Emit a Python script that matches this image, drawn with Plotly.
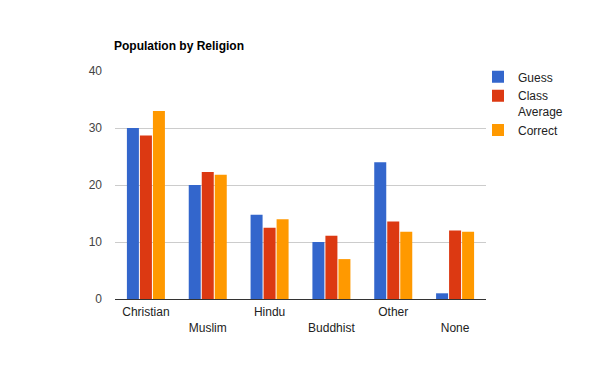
import plotly.graph_objects as go

categories = ["Christian", "Muslim", "Hindu", "Buddhist", "Other", "None"]
tick_labels = ["Christian", "<br>Muslim", "Hindu", "<br>Buddhist", "Other", "<br>None"]
guess = [30, 20, 14.8, 10, 24, 1]
class_avg = [28.7, 22.3, 12.5, 11.1, 13.6, 12]
correct = [33, 21.8, 14, 7, 11.8, 11.8]
series_names = ["Guess", "Class<br>Average", "Correct"]
colors = ["#3366cc", "#dc3912", "#ff9900"]

FONT = "Liberation Sans, Arial, sans-serif"

# page has an 8px body margin, so figure coordinates = page coordinates - 8
W, H = 592, 363
L, T = 107, 63
PW, PH = 371, 228

fig = go.Figure()
for name, vals, col in zip(series_names, [guess, class_avg, correct], colors):
    fig.add_trace(go.Bar(x=categories, y=vals, name=name, marker=dict(color=col, line=dict(width=0))))

fig.update_layout(
    width=W, height=H,
    margin=dict(l=L, r=W - L - PW, t=T, b=H - T - PH),
    paper_bgcolor="white", plot_bgcolor="white",
    font=dict(family=FONT, size=12, color="#222"),
    barmode="group", bargap=0.369, bargroupgap=0.077,
    title=dict(text="<b>Population by Religion</b>", font=dict(family=FONT, size=12, color="#000"),
               xref="container", x=(114 - 8) / W, xanchor="left",
               yref="container", y=1 - (46 - 8) / H, yanchor="middle"),
    showlegend=True,
    legend=dict(x=(470 - L) / PW, xanchor="left", y=1 + (T - 54.5) / PH, yanchor="top",
                valign="top", font=dict(family=FONT, size=12, color="#222"),
                bgcolor="rgba(0,0,0,0)", itemclick=False),
    xaxis=dict(tickmode="array", tickvals=categories, ticktext=tick_labels,
               showline=True, linecolor="#333", linewidth=1, showgrid=False, ticks="",
               ticklabelstandoff=2,
               tickfont=dict(family=FONT, size=12, color="#222")),
    yaxis=dict(range=[0, 40], dtick=10, showgrid=True, gridcolor="#cccccc", gridwidth=1,
               zeroline=False, ticks="", ticklabelstandoff=12,
               tickfont=dict(family=FONT, size=12, color="#444")),
)

fig.write_html("out.html")
